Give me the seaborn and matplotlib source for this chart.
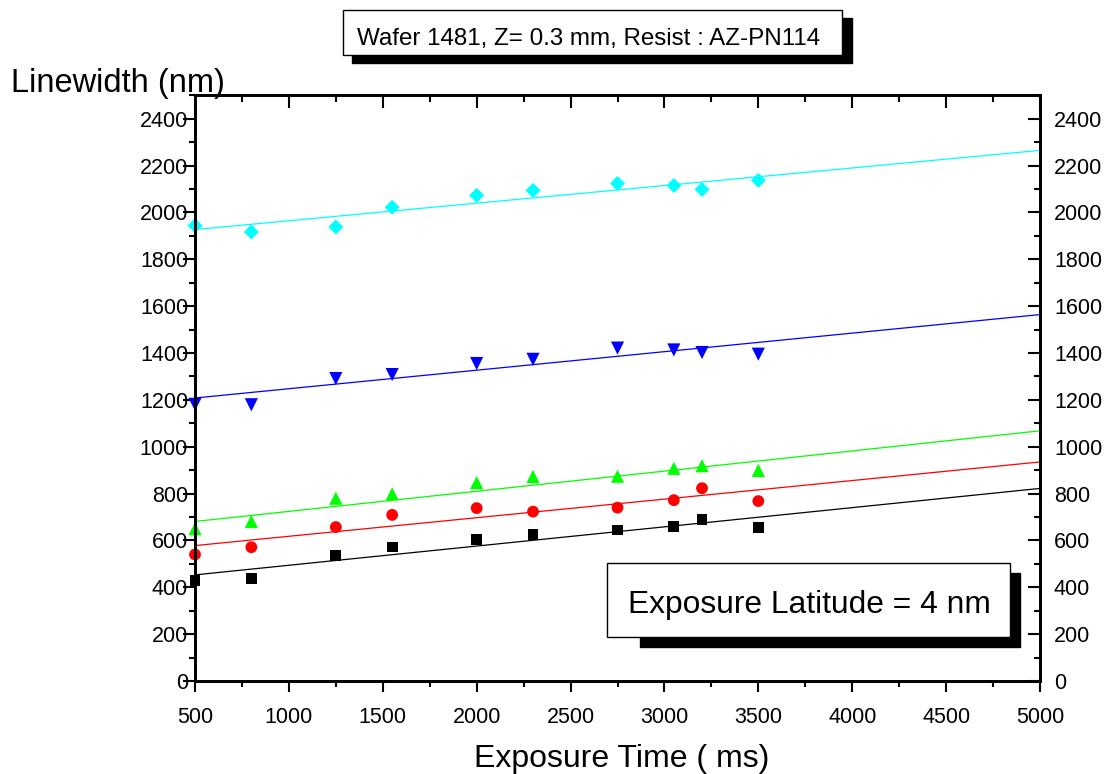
import numpy as np
import pandas as pd
import matplotlib
matplotlib.use("Agg")
import matplotlib.pyplot as plt
from matplotlib.patches import Rectangle
from matplotlib.ticker import MultipleLocator
import seaborn as sns

# exposure times (ms) and measured linewidths (nm) per series
exposure = [500, 800, 1250, 1550, 2000, 2300, 2750, 3050, 3200, 3500]
black_lw = [430, 437, 535, 572, 603, 624, 645, 660, 688, 656]
red_lw = [540, 571, 657, 709, 738, 723, 740, 772, 823, 768]
green_lw = [650, 681, 780, 799, 847, 873, 874, 908, 919, 899]
blue_lw = [1181, 1179, 1291, 1308, 1355, 1373, 1421, 1413, 1402, 1395]
cyan_lw = [1944, 1917, 1938, 2022, 2073, 2094, 2124, 2115, 2098, 2137]

# fitted lines, read at both ends of the x range
fit_x = [500, 5000]
black_fit = [453, 822]
red_fit = [578, 935]
green_fit = [681, 1068]
blue_fit = [1208, 1564]
cyan_fit = [1927, 2265]

series = ["black", "red", "green", "blue", "cyan"]
colors = {"black": "#000000", "red": "#ff0000", "green": "#00ff00",
          "blue": "#0000ff", "cyan": "#00ffff"}
markers = {"black": "s", "red": "o", "green": "^", "blue": "v", "cyan": "D"}
msizes = {"black": 60, "red": 72, "green": 90, "blue": 90, "cyan": 58}

pts = pd.concat([
    pd.DataFrame({"x": exposure, "y": v, "s": name})
    for name, v in zip(series, [black_lw, red_lw, green_lw, blue_lw, cyan_lw])
], ignore_index=True)
fits = pd.concat([
    pd.DataFrame({"x": fit_x, "y": v, "s": name})
    for name, v in zip(series, [black_fit, red_fit, green_fit, blue_fit, cyan_fit])
], ignore_index=True)

sns.set_style("ticks")
plt.rcParams["font.family"] = ["Liberation Sans", "DejaVu Sans"]
plt.rcParams.update({"text.color": "black", "axes.edgecolor": "black",
                     "xtick.color": "black", "ytick.color": "black",
                     "axes.labelcolor": "black"})

W, H = 1112, 774
fig = plt.figure(figsize=(W / 100, H / 100), dpi=100)
ax = fig.add_axes([195 / W, 1 - 681 / H, (1040 - 195) / W, (681 - 95.3) / H])

sns.lineplot(data=fits, x="x", y="y", hue="s", palette=colors, legend=False,
             linewidth=0.9, ax=ax)
sns.scatterplot(data=pts, x="x", y="y", hue="s", style="s", size="s",
                palette=colors, markers=markers, sizes=msizes,
                linewidth=0, legend=False, clip_on=False, zorder=5, ax=ax)

ax.set_xlim(500, 5000)
ax.set_ylim(0, 2500)
ax.set_xlabel("")
ax.set_ylabel("")
ax.xaxis.set_major_locator(MultipleLocator(500))
ax.xaxis.set_minor_locator(MultipleLocator(250))
ax.set_yticks(np.arange(0, 2401, 200))
ax.yaxis.set_minor_locator(MultipleLocator(100))
for s in ax.spines.values():
    s.set_linewidth(1.8)
ax.tick_params(axis="x", which="major", direction="out", length=8, width=1.5,
               labelsize=15.5, pad=11)
ax.tick_params(axis="x", which="minor", direction="out", length=4, width=1.5)
ax.tick_params(axis="y", which="major", direction="out", length=9, width=1.5,
               labelsize=15.5, pad=-4)
ax.tick_params(axis="y", which="minor", direction="out", length=4.5, width=1.5)

# right axis: inward ticks, labels outside
axr = ax.twinx()
axr.set_ylim(ax.get_ylim())
axr.set_yticks(np.arange(0, 2401, 200))
axr.yaxis.set_minor_locator(MultipleLocator(100))
axr.tick_params(axis="y", which="major", direction="in", length=9, width=1.5,
                labelsize=15.5, pad=10)
axr.tick_params(axis="y", which="minor", direction="in", length=4.5, width=1.5)

# top axis: inward ticks, no labels
axt = ax.twiny()
axt.set_xlim(ax.get_xlim())
axt.xaxis.set_major_locator(MultipleLocator(500))
axt.xaxis.set_minor_locator(MultipleLocator(250))
axt.tick_params(axis="x", which="major", direction="in", length=9, width=1.5,
                labeltop=False)
axt.tick_params(axis="x", which="minor", direction="in", length=5, width=1.5)
for a in (axr, axt):
    for s in a.spines.values():
        s.set_linewidth(1.8)


def px_rect(x0, y0, x1, y1, color, z):
    r = Rectangle((x0 / W, 1 - y1 / H), (x1 - x0) / W, (y1 - y0) / H,
                  transform=fig.transFigure, facecolor=color,
                  edgecolor="black", linewidth=1.0, zorder=z)
    fig.add_artist(r)


# title box with shadow
px_rect(352, 18, 852, 63, "black", 10)
px_rect(343, 10, 842, 55, "white", 11)
fig.text(357 / W, 1 - 45 / H, "Wafer 1481, Z= 0.3 mm, Resist : AZ-PN114",
         fontsize=17.4, ha="left", va="baseline", zorder=12)

# annotation box with shadow
px_rect(640, 573, 1020, 647, "black", 10)
px_rect(607, 563, 1010, 637, "white", 11)
fig.text(628 / W, 1 - 613 / H, "Exposure Latitude = 4 nm",
         fontsize=22.9, ha="left", va="baseline", zorder=12)

fig.text(11 / W, 1 - 92 / H, "Linewidth (nm)", fontsize=23.5,
         ha="left", va="baseline")
fig.text(622 / W, 1 - 767 / H, "Exposure Time ( ms)", fontsize=23,
         ha="center", va="baseline")

fig.savefig("out.png", dpi=100)
